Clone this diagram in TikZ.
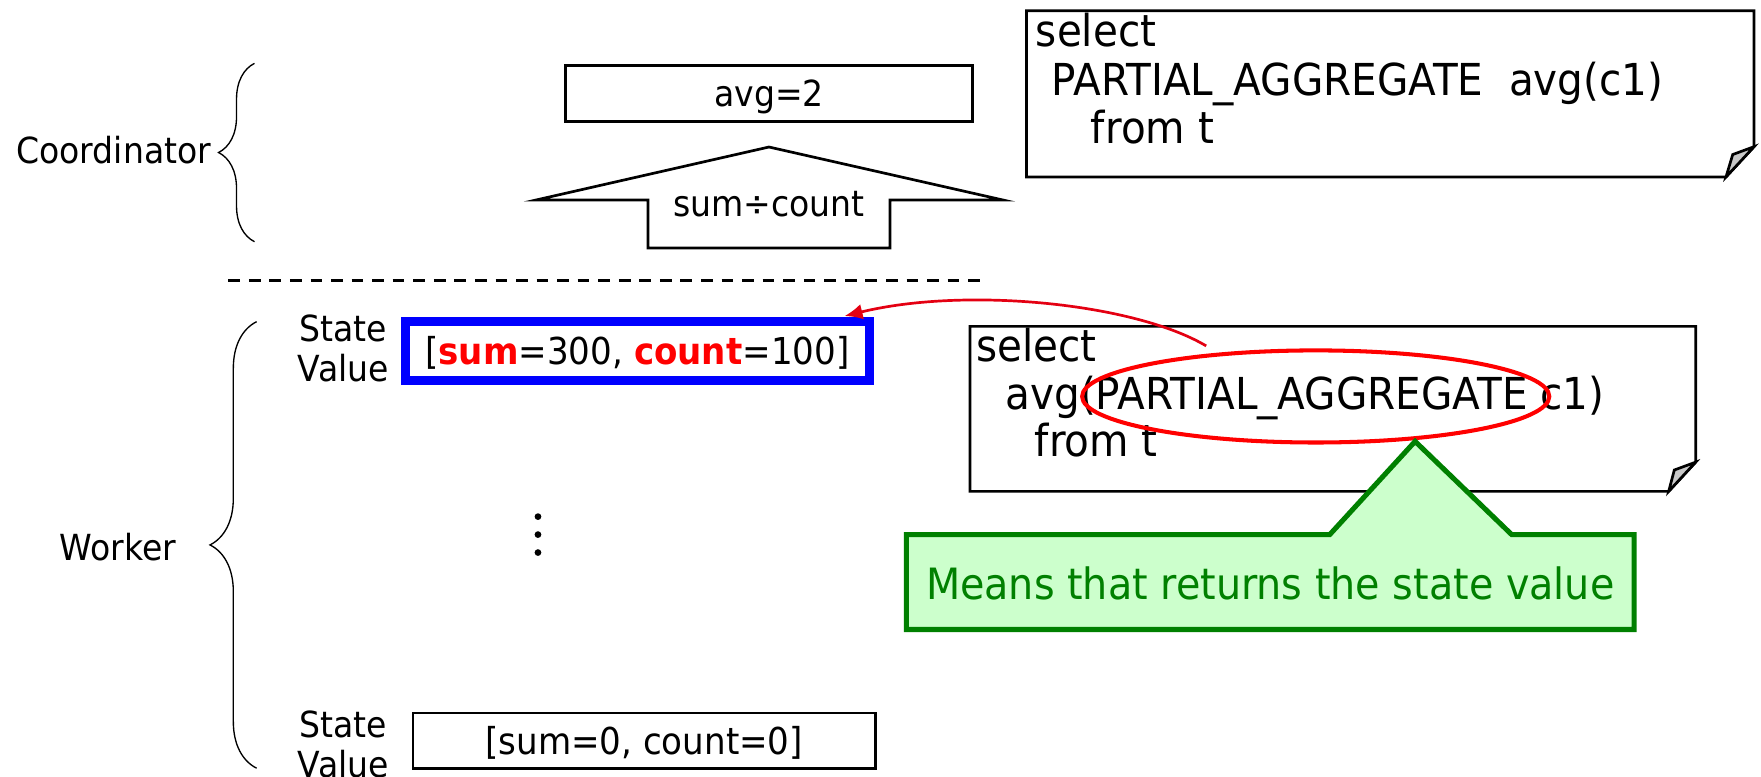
\documentclass[tikz,border=0pt]{standalone}
\usepackage{fontspec}
\setmainfont[FakeStretch=0.92]{DejaVu Sans}
\usetikzlibrary{arrows.meta,decorations.pathreplacing,shapes.geometric,calc}

\definecolor{hlred}{RGB}{255,0,0}
\definecolor{arrred}{RGB}{228,0,18}
\definecolor{stblue}{RGB}{0,0,255}
\definecolor{cgreen}{RGB}{0,128,0}
\definecolor{cfill}{RGB}{204,255,204}
\definecolor{foldgray}{RGB}{200,200,200}

\newcommand\lblsize{\fontsize{16pt}{19pt}\selectfont}
\newcommand\valsize{\fontsize{16.5pt}{19pt}\selectfont}
\newcommand\sqlsize{\fontsize{19.6pt}{22pt}\selectfont}
\newcommand\callsize{\fontsize{19.2pt}{22pt}\selectfont}

\begin{document}
\begin{tikzpicture}[x=0.5pt,y=-0.5pt,
  lbl/.style={inner sep=0pt, font=\lblsize},
  sqltext/.style={inner sep=0pt, anchor=base west, font=\sqlsize},
  resbox/.style={draw, line width=1.2pt, inner sep=0pt, text height=11.7pt, text depth=0pt, font=\lblsize},
  valbox/.style={draw, line width=1.2pt, inner sep=0pt, text height=12pt, text depth=0pt, font=\valsize},
  curbox/.style={valbox, draw=stblue, line width=4pt},
  notestyle/.style={draw, line width=1.2pt, line join=miter},
  bracestyle/.style={decorate, line width=0.6pt}
]
\useasboundingbox (0,0) rectangle (1568,691);

% ---------- coordinator side ----------
\node[lbl, anchor=base west] (coord) at (14.2,145.4) {Coordinator};
\draw[bracestyle, decoration={brace, amplitude=16pt}] (226.6,215.2) -- (226.6,56.4);

\node[resbox, minimum width=181.3pt, minimum height=25.05pt] (avg) at (684.7,83.25) {avg=2};

% wide up arrow carrying the final division
\draw[line width=1.2pt, line join=miter, fill=white]
  (577,220.8) -- (577,178.1) -- (477.2,178.1) -- (684.7,130.9)
  -- (893.1,178.1) -- (792.4,178.1) -- (792.4,220.8) -- cycle;
\node[lbl, anchor=base] (div) at (684.7,193) {sum÷count};

% coordinator query (note with folded corner)
\draw[notestyle, fill=white] (914,9.5) -- (1561.8,9.5) -- (1561.8,130.6)
  -- (1536.8,157.6) -- (914,157.6) -- cycle;
\draw[notestyle, fill=foldgray] (1561.8,130.6) -- (1542.8,137.6) -- (1536.8,157.6) -- cycle;
\node[sqltext] (qa1) at (922,41.6) {select};
\node[sqltext] (qa2) at (936,84.6) {PARTIAL\_AGGREGATE\ \ avg(c1)};
\node[sqltext] (qa3) at (971,127.6) {from t};

% separator between coordinator and workers
\draw[line width=1.3pt, dash pattern=on 5.2pt off 3.95pt] (203.3,250) -- (875,250);

% ---------- worker side ----------
\node[lbl, anchor=base west] (worker) at (53,499) {Worker};
\draw[bracestyle, decoration={brace, amplitude=20.75pt}] (228.5,684) -- (228.5,286.4);

\node[lbl, anchor=base] (st1) at (305.7,304.2) {State};
\node[lbl, anchor=base] (vl1) at (305.7,339.8) {Value};
\node[curbox, minimum width=206.5pt, minimum height=26.05pt] (vb) at (567.5,312.45)
  {[\textcolor{hlred}{\bfseries sum}=300, \textcolor{hlred}{\bfseries count}=100]};

\fill (479,460) circle[radius=1.5pt];
\fill (479,476) circle[radius=1.5pt];
\fill (479,492) circle[radius=1.5pt];

\node[lbl, anchor=base] (st2) at (305.7,657) {State};
\node[lbl, anchor=base] (vl2) at (305.7,692.6) {Value};
\node[valbox, minimum width=205.85pt, minimum height=24.75pt] (vz) at (573.55,659.65)
  {[sum=0, count=0]};

% worker query (note with folded corner)
\draw[notestyle, fill=white] (863.7,290.6) -- (1509.8,290.6) -- (1509.8,411.5)
  -- (1485.8,437.5) -- (863.7,437.5) -- cycle;
\draw[notestyle, fill=foldgray] (1509.8,411.5) -- (1490.8,418.5) -- (1485.8,437.5) -- cycle;
\node[sqltext] (qb1) at (869,322) {select};
\node[sqltext] (qb2) at (895,365) {avg(PARTIAL\_AGGREGATE c1)};
\node[sqltext] (qb3) at (921,406.6) {from t};

% highlight of the modifier
\node[draw=hlred, line width=1.8pt, ellipse, inner sep=0pt,
      minimum width=208pt, minimum height=41pt] (hl) at (1171.5,353) {};

% explanation callout
\draw[cgreen, fill=cfill, line width=2.25pt, line join=miter]
  (807,476) -- (1184,476) -- (1260,393) -- (1346,476) -- (1455,476)
  -- (1455,560.5) -- (807,560.5) -- cycle;
\node[inner sep=0pt, anchor=base, font=\callsize, text=cgreen] (expl) at (1131,533.6)
  {Means that returns the state value};

% the modifier returns the state value
\coordinate (src) at (1074,308);
\draw[arrred, line width=1.2pt, -{Latex[length=8pt,width=7pt]}]
  (src) .. controls (1010,270) and (860,255) .. ($(vb.north east)+(-26,-1)$);
\end{tikzpicture}
\end{document}
